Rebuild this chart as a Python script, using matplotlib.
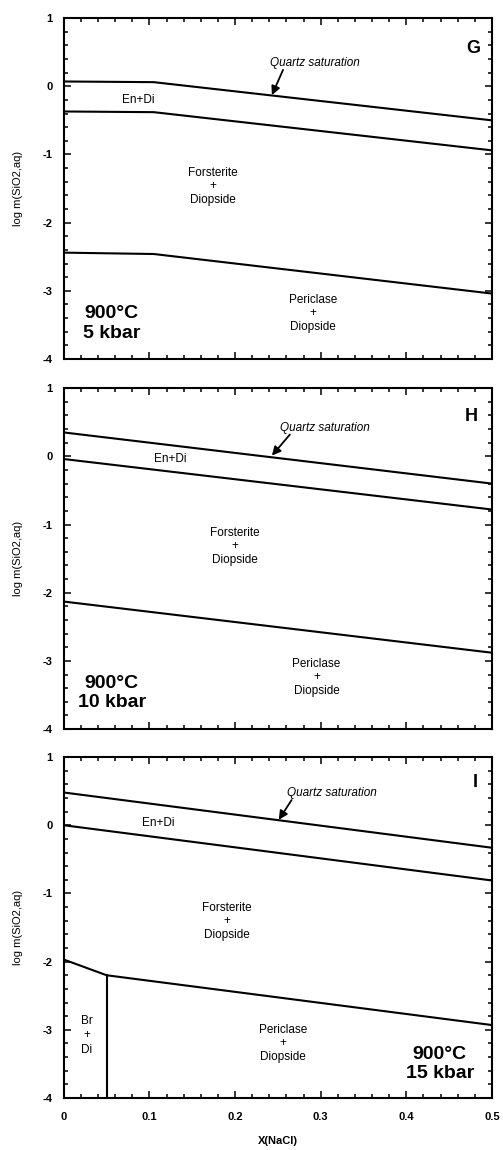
import matplotlib
matplotlib.use("Agg")
import matplotlib.pyplot as plt
from matplotlib.ticker import MultipleLocator

plt.rcParams["font.family"] = ["Liberation Sans", "DejaVu Sans"]

# X(NaCl) breakpoints and log m(SiO2,aq) values
panels = ["G", "H", "I"]
pressures = ["5 kbar", "10 kbar", "15 kbar"]

qtz_x = [[0.0, 0.105, 0.5], [0.0, 0.5], [0.0, 0.5]]
qtz_y = [[0.07, 0.06, -0.50], [0.35, -0.40], [0.48, -0.33]]

endi_x = [[0.0, 0.105, 0.5], [0.0, 0.5], [0.0, 0.5]]
endi_y = [[-0.37, -0.38, -0.94], [-0.04, -0.78], [0.0, -0.81]]

per_x = [[0.0, 0.105, 0.5], [0.0, 0.5], [0.0, 0.05, 0.5]]
per_y = [[-2.44, -2.46, -3.04], [-2.13, -2.88], [-1.97, -2.20, -2.93]]

# brucite boundary, only in panel I
br_x = [0.05, 0.05]
br_y = [-2.20, -4.0]

yticks = [1, 0, -1, -2, -3, -4]
xticks = [0, 0.1, 0.2, 0.3, 0.4, 0.5]

# label positions (data coords)
qtz_txt = [(0.293, 0.34), (0.305, 0.42), (0.313, 0.475)]
qtz_tail = [(0.256, 0.24), (0.264, 0.32), (0.266, 0.37)]
qtz_head = [(0.243, -0.13), (0.243, 0.01), (0.251, 0.08)]
endi_txt = [(0.087, -0.20), (0.124, -0.04), (0.11, 0.03)]
fo_txt = [(0.174, -1.47), (0.20, -1.32), (0.19, -1.41)]
pe_txt = [(0.291, -3.33), (0.295, -3.24), (0.256, -3.20)]
cond_txt = [(0.056, -3.48), (0.056, -3.47), (0.439, -3.50)]
letter_txt = [(0.478, 0.56), (0.476, 0.59), (0.48, 0.62)]

fig = plt.figure(figsize=(5.03, 11.5), dpi=100)
bottoms = [0.6878, 0.366, 0.0452]

for i in range(3):
    ax = fig.add_axes([0.127, bottoms[i], 0.851, 0.2965])
    ax.plot(qtz_x[i], qtz_y[i], color="black", lw=1.5)
    ax.plot(endi_x[i], endi_y[i], color="black", lw=1.5)
    ax.plot(per_x[i], per_y[i], color="black", lw=1.5)
    if i == 2:
        ax.plot(br_x, br_y, color="black", lw=1.5)
        ax.text(0.027, -3.08, "Br\n+\nDi", ha="center", va="center",
                fontsize=8.5, linespacing=1.25)

    ax.set_xlim(0, 0.5)
    ax.set_ylim(-4, 1)
    ax.xaxis.set_major_locator(MultipleLocator(0.1))
    ax.xaxis.set_minor_locator(MultipleLocator(0.02))
    ax.yaxis.set_major_locator(MultipleLocator(1))
    ax.yaxis.set_minor_locator(MultipleLocator(0.2))
    ax.tick_params(which="both", top=True, right=True, width=1.1,
                   direction="in")
    ax.tick_params(which="major", length=5)
    ax.tick_params(which="minor", length=3)
    for sp in ax.spines.values():
        sp.set_linewidth(1.5)

    ax.set_yticks(yticks)
    ax.set_yticklabels([str(t) for t in yticks], fontsize=8, fontweight="bold")
    ax.set_xticks(xticks)
    if i == 2:
        ax.set_xticklabels(["0", "0.1", "0.2", "0.3", "0.4", "0.5"],
                           fontsize=8, fontweight="bold")
        ax.set_xlabel("X(NaCl)", fontsize=8, fontweight="bold", labelpad=10)
    else:
        ax.set_xticklabels([])
    ax.tick_params(axis="x", pad=10)
    ax.tick_params(axis="y", pad=8)
    ax.set_ylabel("log m(SiO2,aq)", fontsize=8, labelpad=14)

    ax.text(*qtz_txt[i], "Quartz saturation", style="italic", fontsize=8.5,
            ha="center", va="center")
    ax.annotate("", xy=qtz_head[i], xytext=qtz_tail[i],
                arrowprops=dict(arrowstyle="-|>", color="black", lw=1.3,
                                mutation_scale=13, shrinkA=0, shrinkB=0))
    ax.text(*endi_txt[i], "En+Di", fontsize=8.5, ha="center", va="center")
    ax.text(*fo_txt[i], "Forsterite\n+\nDiopside", fontsize=8.5, ha="center",
            va="center", linespacing=1.15)
    ax.text(*pe_txt[i], "Periclase\n+\nDiopside", fontsize=8.5, ha="center",
            va="center", linespacing=1.15)
    ax.text(*cond_txt[i], "900°C\n" + pressures[i],
            fontsize=14, fontweight="bold", ha="center", va="center",
            linespacing=1.2)
    ax.text(*letter_txt[i], panels[i], fontsize=13, fontweight="bold",
            ha="center", va="center")

fig.savefig("out.png", dpi=100)
